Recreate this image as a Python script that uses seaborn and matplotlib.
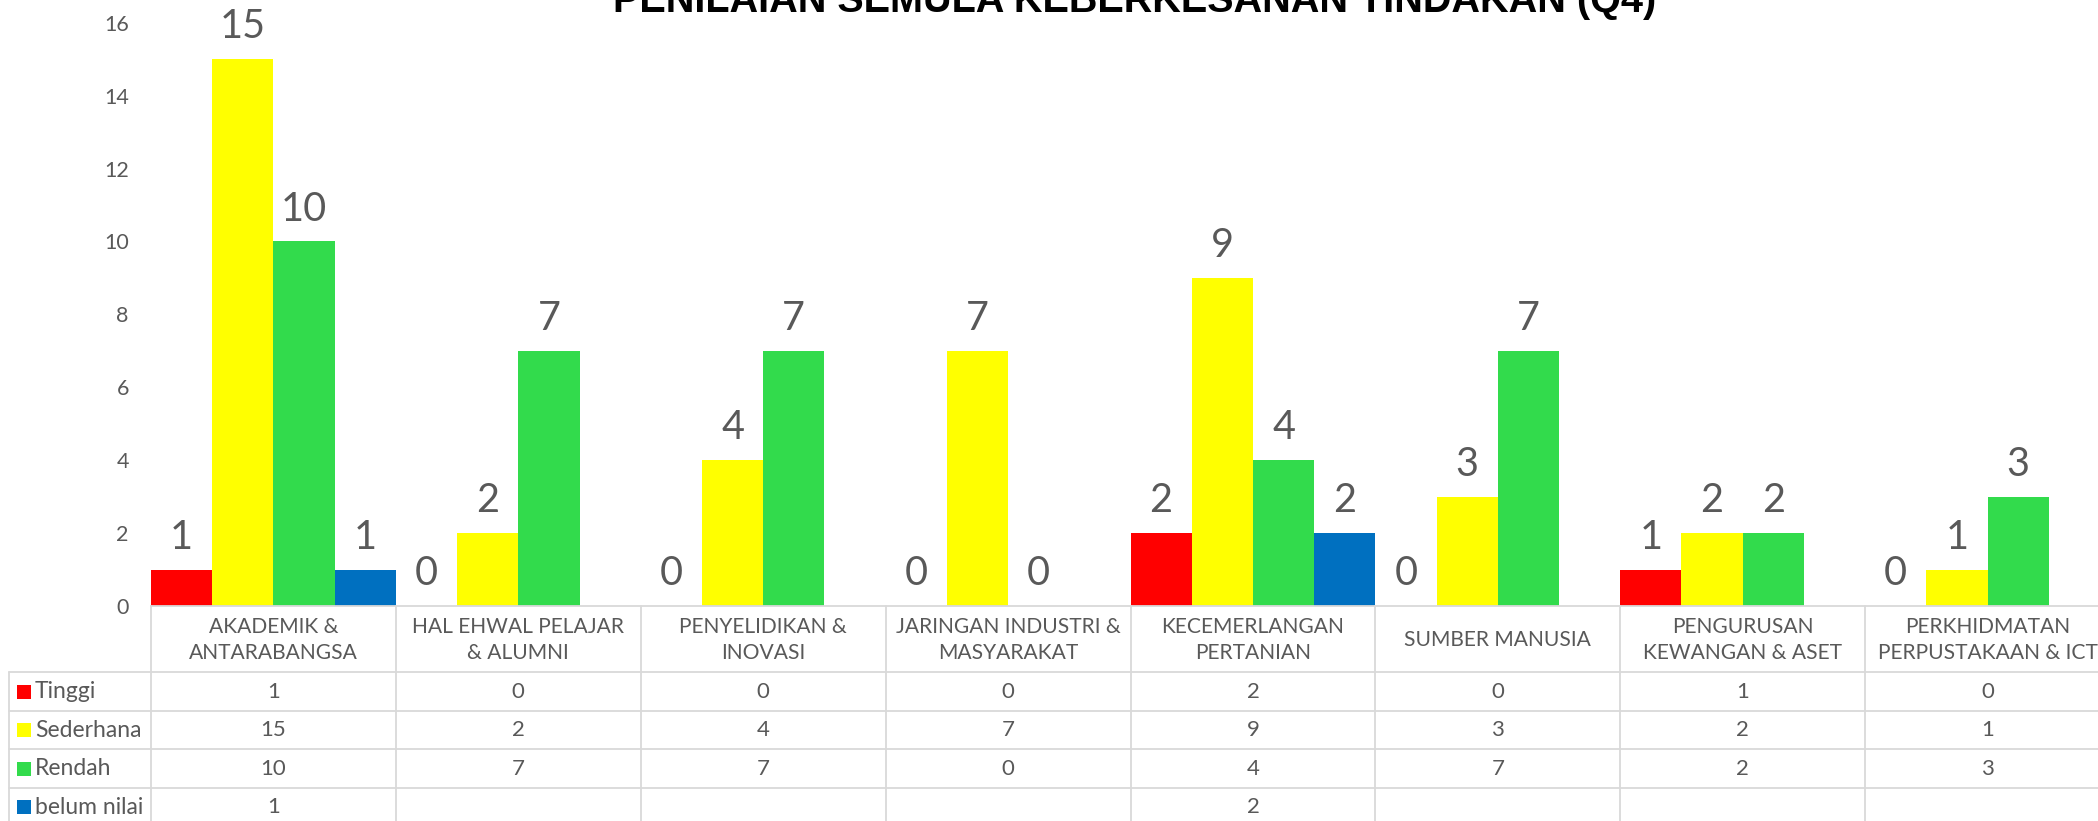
import matplotlib
matplotlib.use("Agg")
import matplotlib.pyplot as plt
import seaborn as sns
import pandas as pd
import numpy as np
from matplotlib.lines import Line2D
from matplotlib.patches import Rectangle

# ---------------- data ----------------
categories = [
    "AKADEMIK &\nANTARABANGSA",
    "HAL EHWAL PELAJAR\n& ALUMNI",
    "PENYELIDIKAN &\nINOVASI",
    "JARINGAN INDUSTRI &\nMASYARAKAT",
    "KECEMERLANGAN\nPERTANIAN",
    "SUMBER MANUSIA",
    "PENGURUSAN\nKEWANGAN & ASET",
    "PERKHIDMATAN\nPERPUSTAKAAN & ICT",
]
series_names = ["Tinggi", "Sederhana", "Rendah", "belum nilai"]
tinggi = [1, 0, 0, 0, 2, 0, 1, 0]
sederhana = [15, 2, 4, 7, 9, 3, 2, 1]
rendah = [10, 7, 7, 0, 4, 7, 2, 3]
belum_nilai = [1, None, None, None, 2, None, None, None]
colors = ["#FF0000", "#FFFF00", "#32DB4C", "#0070C0"]
title = "PENILAIAN SEMULA KEBERKESANAN TINDAKAN (Q4)"
y_ticks = [0, 2, 4, 6, 8, 10, 12, 14, 16]

series_values = [tinggi, sederhana, rendah, belum_nilai]
rows = []
for s, vals in zip(series_names, series_values):
    for c, v in zip(categories, vals):
        if v is not None:
            rows.append({"cat": c, "series": s, "val": v})
df = pd.DataFrame(rows)

# ---------------- figure ----------------
W, H = 2098, 821
sns.set_style("white")
plt.rcParams["font.family"] = ["Lato", "DejaVu Sans"]
GREY = "#595959"
GRID = "#D9D9D9"

fig = plt.figure(figsize=(W / 100, H / 100), dpi=100)
fig.patch.set_facecolor("white")

ax_left, ax_right, ax_bottom, ax_top = 151, 2110, 606, 22.7
ax = fig.add_axes([ax_left / W, (H - ax_bottom) / H,
                   (ax_right - ax_left) / W, (ax_bottom - ax_top) / H])

sns.barplot(data=df, x="cat", y="val", hue="series", order=categories,
            hue_order=series_names, palette=colors, width=1.0, gap=0,
            saturation=1, linewidth=0, legend=False, ax=ax, errorbar=None)

ax.set_xlim(-0.5, len(categories) - 0.5)
ax.set_ylim(0, 16)
ax.set_yticks(y_ticks)
ax.set_yticklabels([str(t) for t in y_ticks], fontsize=15.5, color=GREY)
ax.tick_params(axis="y", length=0, pad=16)
ax.set_xticks([])
ax.set_xlabel("")
ax.set_ylabel("")
for sp in ["top", "right", "left"]:
    ax.spines[sp].set_visible(False)
ax.spines["bottom"].set_color(GRID)
ax.spines["bottom"].set_linewidth(1.3)

for cont in ax.containers:
    ax.bar_label(cont, fmt="%g", padding=10, fontsize=28.5, color=GREY)

# ---------------- data table ----------------
def fx(px):
    return px / W

def fy(py):
    return 1 - py / H

fig.canvas.draw()
bounds_px = [ax.transData.transform((i - 0.5, 0))[0] for i in range(len(categories) + 1)]
centers_px = [ax.transData.transform((i, 0))[0] for i in range(len(categories))]

header_top, header_bot = 606, 672
row_lines = [672, 711, 749, 788, 826]
legend_left = 9
lw = 1.3

# vertical lines
for bx in bounds_px:
    fig.add_artist(Line2D([fx(bx), fx(bx)], [fy(header_top), fy(H + 5)],
                          color=GRID, lw=lw, transform=fig.transFigure))
fig.add_artist(Line2D([fx(legend_left), fx(legend_left)], [fy(header_bot), fy(H + 5)],
                      color=GRID, lw=lw, transform=fig.transFigure))
# horizontal lines
for ry in row_lines[:-1]:
    fig.add_artist(Line2D([fx(legend_left), fx(W + 20)], [fy(ry), fy(ry)],
                          color=GRID, lw=lw, transform=fig.transFigure))

# header labels
for c, cx in zip(categories, centers_px):
    fig.text(fx(cx), fy((header_top + header_bot) / 2 + 1), c, ha="center", va="center",
             fontsize=15.1, color=GREY, linespacing=1.4)

# rows
for r, (s, vals, col) in enumerate(zip(series_names, series_values, colors)):
    ytop, ybot = row_lines[r], row_lines[r + 1]
    yc = (ytop + ybot) / 2 if r < 3 else ytop + 19
    fig.add_artist(Rectangle((fx(17), fy(yc + 7)), 14 / W, 14 / H, color=col,
                             transform=fig.transFigure, lw=0))
    fig.text(fx(35), fy(yc), s, ha="left", va="center", fontsize=16.5, color=GREY)
    for v, cx in zip(vals, centers_px):
        if v is not None:
            fig.text(fx(cx), fy(yc), f"{v:g}", ha="center", va="center",
                     fontsize=16, color=GREY)

# ---------------- title ----------------
t = fig.text(fx(1135), fy(12), title, ha="center", va="baseline", fontsize=28,
             fontweight="bold", family="Liberation Sans", color="black")
fig.canvas.draw()
wpx = t.get_window_extent().width
t.set_fontsize(28 * 1045 / wpx)

fig.savefig("out.png", dpi=100, facecolor="white")
